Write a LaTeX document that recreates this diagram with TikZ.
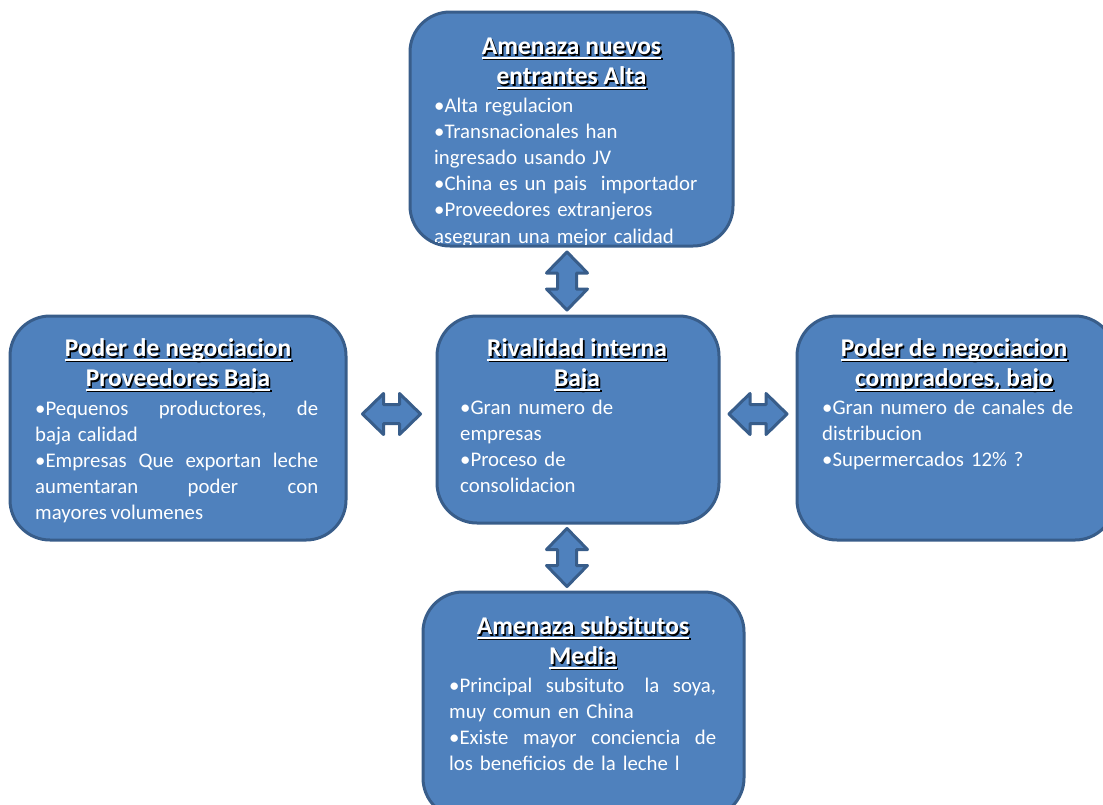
\documentclass[tikz,border=0pt]{standalone}
\usepackage{fontspec}
\setmainfont{Carlito}
\usetikzlibrary{calc}
\definecolor{boxfill}{HTML}{4F81BD}
\definecolor{boxline}{HTML}{385D8A}
% underlined heading text with a dark drop shadow
\newcommand\ulbox[1]{\setbox0=\hbox{#1}\rlap{\rule[-3.8pt]{\wd0}{1.9pt}}\box0}
\newcommand\shad[1]{\rlap{\raisebox{-1.6pt}{\hspace{1.6pt}\color{black}\ulbox{#1}}}\ulbox{#1}}
% a line spread over a given width
\newcommand\jline[2]{\leavevmode\hbox to #1{#2}}
\tikzset{
  force/.style={draw=boxline, fill=boxfill, line width=3pt, rounded corners=40pt,
    rectangle, inner sep=0pt},
  ttl/.style={text=white, align=center, inner sep=0pt, anchor=north,
    font=\fontsize{25.5}{30}\selectfont\bfseries},
  body/.style={text=white, align=left, inner sep=0pt, anchor=north west,
    font=\fontsize{20.8}{26.2}\selectfont},
  arrowsty/.style={draw=boxline, fill=boxfill, line width=3pt, line join=round},
  dbl/.pic={\path[arrowsty] (-29,0) -- (-8,-20.5) -- (-8,-9.5) -- (8,-9.5) -- (8,-20.5)
    -- (29,0) -- (8,20.5) -- (8,9.5) -- (-8,9.5) -- (-8,20.5) -- cycle;}
}
\begin{document}
\begin{tikzpicture}[x=1pt,y=-1pt]
\useasboundingbox (0,0) rectangle (1103,804);
\clip (0,0) rectangle (1103,804);
\fill[white] (0,0) rectangle (1103,804);

% the five forces
\node[force, minimum width=323pt, minimum height=234pt] (top) at (571.5,129) {};
\node[force, minimum width=336pt, minimum height=224pt] (left) at (178,428) {};
\node[force, minimum width=282pt, minimum height=207pt] (mid) at (578,419.5) {};
\node[force, minimum width=318pt, minimum height=224pt] (right) at (956,428) {};
\node[force, minimum width=321pt, minimum height=226pt] (bot) at (583.5,705) {};

% double arrows linking the centre with each force
\coordinate (ax) at (567,0);
\coordinate (ay) at (0,414);
\coordinate (mt) at ($(top.south)!0.5!(mid.north)$);
\coordinate (mb) at ($(mid.south)!0.5!(bot.north)$);
\coordinate (ml) at ($(left.east)!0.5!(mid.west)$);
\coordinate (mr) at ($(mid.east)!0.5!(right.west)$);
\pic[rotate=90] at (ax |- mt) {dbl};
\pic[rotate=90] at (ax |- mb) {dbl};
\pic at (ml |- ay) {dbl};
\pic at (mr |- ay) {dbl};

% top
\node[ttl] (topT) at (571.5,33.5) {\strut\shad{Amenaza nuevos}\\\shad{entrantes Alta}};
\begin{scope}
\clip[rounded corners=38pt] (411.5,13.5) rectangle (731.5,244);
\node[body, text width=300pt] (topB) at (434,93.6) {\strut•Alta regulacion\\
•Transnacionales han\\
ingresado usando JV\\
•China es un pais\ \ importador\\
•Proveedores extranjeros\\
aseguran una mejor calidad};
\end{scope}

% left
\node[ttl] (leftT) at (178,335.5) {\strut\shad{Poder de negociacion}\\\shad{Proveedores Baja}};
\node[body, text width=283pt] (leftB) at (35,396.6) {\strut\jline{283pt}{•Pequenos\hfill productores,\hfill de}\\
baja calidad\\
\jline{283pt}{•Empresas\hfill Que\hfill exportan\hfill leche}\\
\jline{283pt}{aumentaran\hfill poder\hfill con}\\
mayores\hspace{-3pt} volumenes};

% centre
\node[ttl] (midT) at (577,335.5) {\strut\shad{Rivalidad interna}\\\shad{Baja}};
\node[body, text width=240pt] (midB) at (460,395.6) {\strut•Gran numero de\\
empresas\\
•Proceso de\\
consolidacion};

% right
\node[ttl] (rightT) at (954,335.5) {\strut\shad{Poder de negociacion}\\\shad{compradores, bajo}};
\node[body, text width=270pt] (rightB) at (822,395.6) {\strut•Gran numero de canales de\\
distribucion\\
•Supermercados 12\% ?};

% bottom
\node[ttl] (botT) at (583,613.5) {\strut\shad{Amenaza subsitutos}\\\shad{Media}};
\node[body, text width=267pt] (botB) at (449,673.6) {\strut\jline{267pt}{•Principal\hfill subsituto\hfill\ la\hfill soya,}\\
muy comun en China\\
\jline{267pt}{•Existe\hfill mayor\hfill conciencia\hfill de}\\
los beneficios de la leche l};
\end{tikzpicture}
\end{document}
